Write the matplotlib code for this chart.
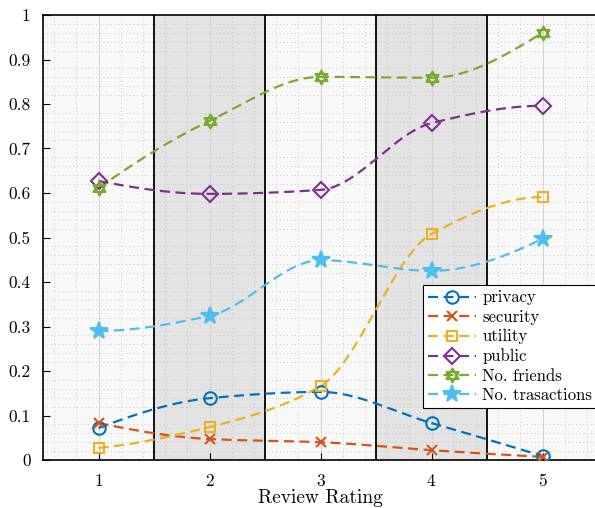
import numpy as np
import matplotlib
matplotlib.use("Agg")
import matplotlib.pyplot as plt
from matplotlib.path import Path

# review rating vs share of reviews mentioning each aspect
ratings = [1, 2, 3, 4, 5]
privacy = [0.072, 0.139, 0.153, 0.083, 0.009]
security = [0.083, 0.047, 0.040, 0.022, 0.007]
utility = [0.027, 0.074, 0.166, 0.508, 0.591]
public = [0.627, 0.598, 0.607, 0.757, 0.796]
friends = [0.611, 0.762, 0.861, 0.859, 0.960]
transactions = [0.290, 0.324, 0.449, 0.425, 0.497]
labels = ["privacy", "security", "utility", "public", "No. friends", "No. trasactions"]

plt.rcParams['font.family'] = 'serif'
plt.rcParams['font.serif'] = ['cmr10']
plt.rcParams['axes.formatter.use_mathtext'] = True


def pchip(x, y, xs):
    # shape preserving cubic, like matlab's pchip
    x = np.asarray(x, float); y = np.asarray(y, float)
    h = np.diff(x); d = np.diff(y) / h
    n = len(x); m = np.zeros(n)
    for k in range(1, n - 1):
        if d[k - 1] * d[k] > 0:
            w1 = 2 * h[k] + h[k - 1]; w2 = h[k] + 2 * h[k - 1]
            m[k] = (w1 + w2) / (w1 / d[k - 1] + w2 / d[k])
    m[0] = ((2 * h[0] + h[1]) * d[0] - h[0] * d[1]) / (h[0] + h[1])
    if np.sign(m[0]) != np.sign(d[0]): m[0] = 0
    m[-1] = ((2 * h[-1] + h[-2]) * d[-1] - h[-1] * d[-2]) / (h[-1] + h[-2])
    if np.sign(m[-1]) != np.sign(d[-1]): m[-1] = 0
    idx = np.clip(np.searchsorted(x, xs) - 1, 0, n - 2)
    t = (xs - x[idx]) / h[idx]
    h00 = 2 * t**3 - 3 * t**2 + 1; h10 = t**3 - 2 * t**2 + t
    h01 = -2 * t**3 + 3 * t**2; h11 = t**3 - t**2
    return h00 * y[idx] + h10 * h[idx] * m[idx] + h01 * y[idx + 1] + h11 * h[idx] * m[idx + 1]


# hexagram marker (two triangles)
a = np.deg2rad(np.array([90, 210, 330, 90]))
b = np.deg2rad(np.array([270, 30, 150, 270]))
verts = list(zip(np.cos(a), np.sin(a))) + list(zip(np.cos(b), np.sin(b)))
codes = [Path.MOVETO, Path.LINETO, Path.LINETO, Path.CLOSEPOLY] * 2
hexagram = Path(verts, codes)

fig = plt.figure(figsize=(5.95, 5.08), dpi=100)
ax = fig.add_axes([43 / 595, 48 / 508, 555 / 595, 445 / 508])
ax.set_xlim(0.5, 5.5)
ax.set_ylim(0, 1)

# alternating bands
for i, r in enumerate(ratings):
    col = '#e3e3e3' if i % 2 == 1 else '#f8f8f8'
    ax.axvspan(r - 0.5, r + 0.5, color=col, zorder=0, lw=0)
for r in ratings[:-1]:
    ax.axvline(r + 0.5, color='k', lw=1.3, zorder=1)

ax.set_xticks(ratings)
ax.set_yticks(np.arange(0, 1.01, 0.1))
ax.set_yticklabels(['0'] + ['%.1f' % v for v in np.arange(0.1, 0.95, 0.1)] + ['1'])
ax.set_xticks(np.arange(0.6, 5.5, 0.2), minor=True)
ax.set_yticks(np.arange(0, 1.001, 0.02), minor=True)
ax.grid(True, which='major', axis='x', color='#d5d5d5', lw=0.8, zorder=0.5)
ax.grid(True, which='minor', color='#bdbdbd', lw=0.6, ls=(0, (1, 3.5)), zorder=0.5)
ax.set_axisbelow(True)
ax.tick_params(which='major', direction='in', length=5, labelsize=12.5, pad=9)
ax.tick_params(which='minor', length=0)
for s in ax.spines.values():
    s.set_linewidth(1.2)

series = [privacy, security, utility, public, friends, transactions]
colors = ['#0072BD', '#D95319', '#EDB120', '#7E2F8E', '#77AC30', '#4DBEEE']
markers = ['o', 'x', 's', 'D', hexagram, '*']
msizes = [9, 7, 7, 8, 10, 13]
dash = (4.5, 2.5)

xs = np.linspace(1, 5, 200)
handles = []
for ys, c, mk, ms, lab in zip(series, colors, markers, msizes, labels):
    ax.plot(xs, pchip(ratings, ys, xs), color=c, lw=1.6, dashes=dash, zorder=3)
    filled = lab.startswith('No. tr')
    ax.plot(ratings, ys, ls='none', marker=mk, ms=ms, mew=1.5, color=c,
            mfc=c if filled else 'none', zorder=4)
    h, = ax.plot([], [], color=c, lw=1.6, dashes=dash, marker=mk, ms=ms, mew=1.5,
                 mfc=c if filled else 'none', label=lab)
    handles.append(h)

leg = ax.legend(handles=handles, loc='upper left', bbox_to_anchor=((423 - 43) / 555, 0.393),
                borderaxespad=0, fontsize=12, handlelength=2.9, handletextpad=0.35,
                labelspacing=0.25, borderpad=0.3, fancybox=False, framealpha=1)
leg.get_frame().set_edgecolor('k')
leg.get_frame().set_linewidth(0.8)

ax.set_xlabel('Review Rating', fontsize=14)
ax.xaxis.set_label_coords(0.5, -0.066)

fig.savefig('out.png', dpi=100)
